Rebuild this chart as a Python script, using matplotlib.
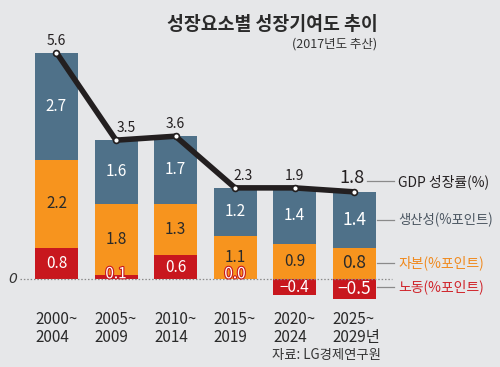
import matplotlib
matplotlib.use("Agg")
import matplotlib.pyplot as plt
import matplotlib.patheffects as pe
import numpy as np

plt.rcParams['font.family'] = ['Noto Sans CJK KR', 'DejaVu Sans']

# ---- data ----
periods = ["2000~\n2004", "2005~\n2009", "2010~\n2014", "2015~\n2019", "2020~\n2024", "2025~\n2029년"]
gdp = [5.6, 3.5, 3.6, 2.3, 1.9, 1.8]
productivity = [2.7, 1.6, 1.7, 1.2, 1.4, 1.4]
capital = [2.2, 1.8, 1.3, 1.1, 0.9, 0.8]
labor = [0.8, 0.1, 0.6, 0.0, -0.4, -0.5]

title = "성장요소별 성장기여도 추이"
subtitle = "(2017년도 추산)"
source = "자료: LG경제연구원"
legend_labels = ["GDP 성장률(%)", "생산성(%포인트)", "자본(%포인트)", "노동(%포인트)"]

BG = "#e6e7e9"
BLUE = "#4f7189"
ORANGE = "#f7941e"
RED = "#c8171e"
DARK = "#231f20"

W, H = 500, 367
fig = plt.figure(figsize=(W / 100, H / 100), dpi=100, facecolor=BG)
ax = fig.add_axes([0, 0, 1, 1])
ax.set_facecolor(BG)
ax.axis("off")

# scale: centers at 56.5 + 59.5*i px; zero at y=279.3 px, 39.75 px/unit
step, x0 = 59.5, 56.5
ppu, y0 = 39.75, 279.3
ax.set_xlim(-x0 / step, (W - x0) / step)
ax.set_ylim((y0 - H) / ppu, y0 / ppu)

def fx(px):
    return px / W

def fy(py):
    return 1 - py / H

n = len(periods)
x = np.arange(n)
bw = 43 / step
prod = np.array(productivity)
cap = np.array(capital)
lab = np.array(labor)
lab_pos = np.clip(lab, 0, None)
lab_neg = np.clip(lab, None, 0)

ax.bar(x, lab_pos, bw, color=RED, zorder=2)
ax.bar(x, lab_neg, bw, color=RED, zorder=2)
ax.bar(x, cap, bw, bottom=lab_pos, color=ORANGE, zorder=2)
ax.bar(x, prod, bw, bottom=lab_pos + cap, color=BLUE, zorder=2)

# zero line
ax.plot([(20 - x0) / step, (392 - x0) / step], [0, 0], color="#8a8a8a",
        lw=0.9, ls=(0, (1.2, 1.5)), zorder=3)
ax.text((13 - x0) / step, 0, "0", ha="center", va="center", fontsize=10,
        style="italic", color="#333333", family="DejaVu Sans")

# GDP line at top of positive stacks
tops = lab_pos + cap + prod
ax.plot(x, tops, color=DARK, lw=4.0, zorder=4, solid_capstyle="round",
        solid_joinstyle="round")
ax.plot(x, tops, ls="none", marker="o", ms=4.2, mfc="white", mec=DARK,
        mew=1.2, zorder=5)

# small horizontal nudges for GDP labels so they clear the line
gdp_dx = [0, 0.17, 0, 0.14, 0, -0.03]

LW = "light"
for i in range(n):
    big = (i == n - 1)
    fs_in = 12.5 if big else 11
    wt = "normal" if big else LW
    # productivity
    ax.text(x[i], lab_pos[i] + cap[i] + prod[i] / 2, f"{prod[i]:.1f}",
            ha="center", va="center", color="white", fontsize=fs_in,
            fontweight=wt, zorder=6)
    # capital
    ax.text(x[i], lab_pos[i] + cap[i] / 2, f"{cap[i]:.1f}",
            ha="center", va="center", color="#2a2a2a", fontsize=fs_in,
            fontweight=wt, zorder=6)
    # labor
    if lab[i] < 0:
        ax.text(x[i], lab[i] / 2, f"\u2212{abs(lab[i]):.1f}", ha="center",
                va="center", color="white", fontsize=fs_in, fontweight=wt,
                zorder=6)
    elif lab[i] >= 0.3:
        ax.text(x[i], lab[i] / 2, f"{lab[i]:.1f}", ha="center", va="center",
                color="white", fontsize=fs_in, fontweight=wt, zorder=6)
    else:
        ax.text(x[i], 0.14, f"{lab[i]:.1f}", ha="center", va="center",
                color="white", fontsize=fs_in, fontweight=wt, zorder=6,
                path_effects=[pe.withStroke(linewidth=1.6, foreground=RED)])
    # GDP label
    ax.text(x[i] + gdp_dx[i], tops[i] + 0.12, f"{gdp[i]:.1f}", ha="center",
            va="bottom", color=DARK, fontsize=13 if big else 10,
            fontweight=wt, zorder=6)
    # period labels
    ax.text(x[i] - bw / 2, -0.8, periods[i], ha="left", va="top",
            color="#2a2a2a", fontsize=11, fontweight=LW, linespacing=1.05,
            zorder=6)

# title / subtitle / source
fig.text(fx(272), fy(24), title, ha="center", va="center", fontsize=13.2,
         fontweight="bold", color="#2a2a2a")
fig.text(fx(377), fy(44), subtitle, ha="right", va="center", fontsize=9,
         color="#333333")
fig.text(fx(272), fy(355), source, ha="left", va="center", fontsize=9.6,
         color="#333333")

# legend labels with leader lines
leg_y = [181.5, 220, 263, 286.5]
leg_line_x0 = [367, 377, 377, 377]
leg_colors = [DARK, "#4a5560", "#f08a1e", "#d0232a"]
leg_fs = [10, 9.6, 10, 10]
for lbl, py, lx0, c, fs in zip(legend_labels, leg_y, leg_line_x0, leg_colors, leg_fs):
    ax.plot([fx(lx0), fx(394)], [fy(py), fy(py)], transform=ax.transAxes,
            color="#8a8a8a", lw=0.9, zorder=3)
    fig.text(fx(398), fy(py), lbl, ha="left", va="center", fontsize=fs,
             color=c)

fig.savefig("out.png", dpi=100, facecolor=BG)
